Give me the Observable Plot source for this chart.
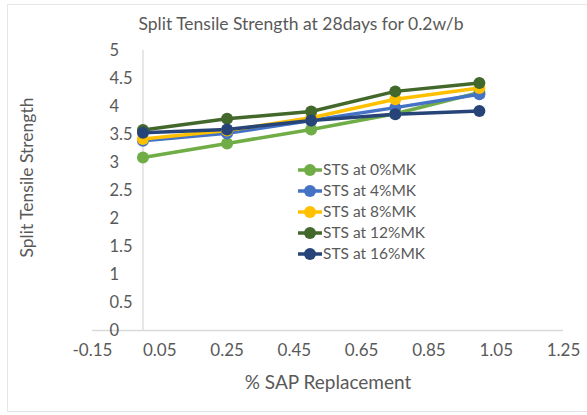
<!DOCTYPE html>
<html>
<head>
<meta charset="utf-8">
<script src="https://cdn.jsdelivr.net/npm/d3@7"></script>
<script src="https://cdn.jsdelivr.net/npm/@observablehq/plot@0.6"></script>
<style>
  html, body { margin: 0; padding: 0; background: #fff; overflow: hidden; }
  #wrap { position: relative; width: 587px; height: 415px; font-family: Lato, "Open Sans", sans-serif; }
  #border { position: absolute; left: 7px; top: 4px; width: 600px; height: 408px; border: 1px solid #E6E6E6; box-sizing: border-box; pointer-events: none; }
  #legend { position: absolute; left: 298px; top: 159px; font-size: 15.5px; color: #595959; line-height: 21px; }
  #legend .row { display: flex; align-items: center; height: 21px; }
  #legend svg { margin-right: 1px; }
</style>
</head>
<body>
<div id="wrap"></div>
<script>
const sap = [0, 0.25, 0.5, 0.75, 1];
const seriesNames = ["STS at 0%MK", "STS at 4%MK", "STS at 8%MK", "STS at 12%MK", "STS at 16%MK"];
const seriesColors = ["#70AD47", "#4472C4", "#FFC000", "#43682B", "#264478"];
const sts0 = [3.09, 3.34, 3.59, 3.87, 4.25];
const sts4 = [3.39, 3.52, 3.75, 3.98, 4.22];
const sts8 = [3.42, 3.57, 3.80, 4.13, 4.33];
const sts12 = [3.58, 3.78, 3.91, 4.27, 4.42];
const sts16 = [3.53, 3.59, 3.75, 3.86, 3.92];
const xTicks = [-0.15, 0.05, 0.25, 0.45, 0.65, 0.85, 1.05, 1.25];
const yTicks = [0, 0.5, 1, 1.5, 2, 2.5, 3, 3.5, 4, 4.5, 5];
const title = "Split Tensile Strength at 28days for 0.2w/b";
const xLabel = "% SAP Replacement";
const yLabel = "Split Tensile Strength";

const allValues = [sts0, sts4, sts8, sts12, sts16];
const data = [];
allValues.forEach((vals, i) => vals.forEach((v, j) => data.push({series: seriesNames[i], x: sap[j], y: v})));

const textColor = "#595959";
const axisColor = "#D9D9D9";
const fmtX = d => d3.format(".2f")(d).replace("\u2212", "-");

const chart = Plot.plot({
  width: 587,
  height: 415,
  marginLeft: 92,
  marginRight: 24,
  marginTop: 50,
  marginBottom: 85,
  style: {fontFamily: "Lato, 'Open Sans', sans-serif", fontSize: "16.5px", color: textColor, background: "#fff"},
  x: {domain: [-0.15, 1.25]},
  y: {domain: [0, 5]},
  color: {domain: seriesNames, range: seriesColors},
  marks: [
    Plot.ruleY([0], {stroke: axisColor, strokeWidth: 1.3}),
    Plot.ruleX([0], {y1: 0, y2: 5, stroke: axisColor, strokeWidth: 1.3}),
    Plot.axisX({ticks: xTicks, tickFormat: fmtX, tickSize: 0, tickPadding: 13, fill: textColor, fontSize: 17,
      label: null}),
    Plot.axisY({ticks: yTicks, tickFormat: d => String(d), tickSize: 0, tickPadding: 3, dx: 20, textAnchor: "start",
      fill: textColor, fontSize: 16.5, label: null}),
    Plot.text([yLabel], {frameAnchor: "left", textAnchor: "middle", rotate: -90, dx: -65, dy: -13, fill: textColor, fontSize: 17.5}),
    Plot.text([xLabel], {frameAnchor: "bottom", textAnchor: "middle", dy: 58, fill: textColor, fontSize: 19}),
    Plot.text([title], {frameAnchor: "top", textAnchor: "middle", dx: -27, dy: -33, fill: textColor, fontSize: 17.5}),
    Plot.line(data, {x: "x", y: "y", z: "series", stroke: "series", strokeWidth: 3.5}),
    Plot.dot(data, {x: "x", y: "y", fill: "series", r: 6, stroke: "none"})
  ]
});
const wrap = document.getElementById("wrap");
wrap.appendChild(chart);

const border = document.createElement("div");
border.id = "border";
wrap.appendChild(border);

const legend = document.createElement("div");
legend.id = "legend";
seriesNames.forEach((name, i) => {
  const row = document.createElement("div");
  row.className = "row";
  row.innerHTML = `<svg width="24" height="14"><line x1="0" y1="7" x2="24" y2="7" stroke="${seriesColors[i]}" stroke-width="3.5"/><circle cx="12" cy="7" r="6" fill="${seriesColors[i]}"/></svg><span>${name}</span>`;
  legend.appendChild(row);
});
wrap.appendChild(legend);
</script>
</body>
</html>
